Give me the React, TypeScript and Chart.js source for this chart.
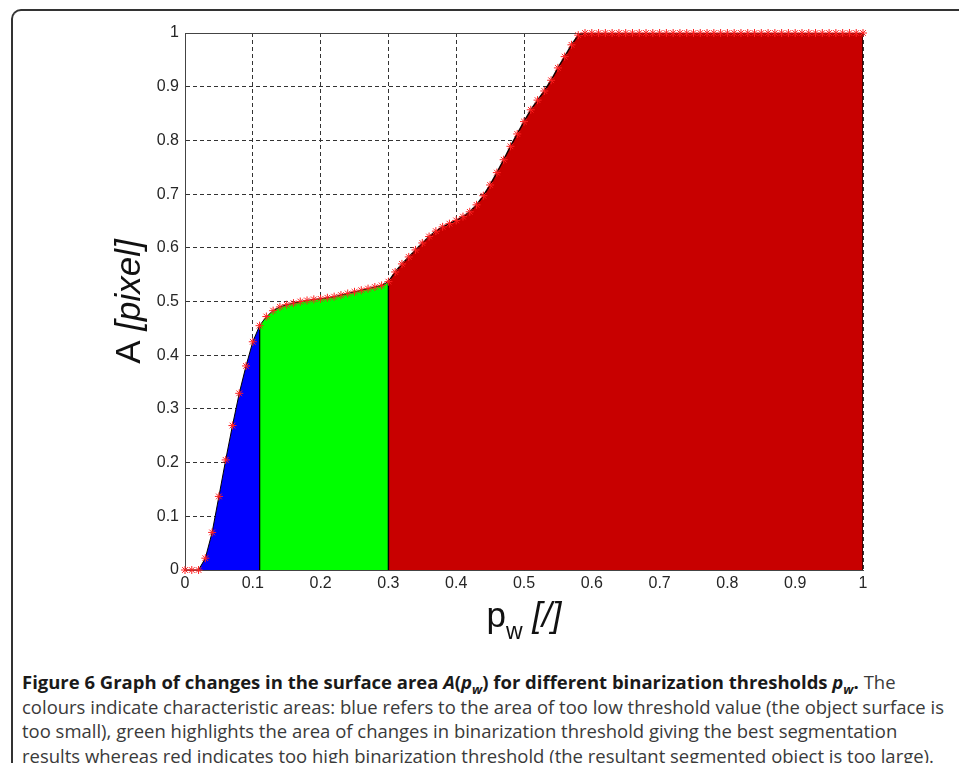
import React, { useEffect, useLayoutEffect, useRef } from "react";
import { Chart, registerables } from "chart.js";

Chart.register(...registerables);

// Binarization threshold p_w (x) and normalized surface area A(p_w) (y)
const thresholds: number[] = [
  0.0, 0.01, 0.02, 0.03, 0.04, 0.05, 0.06, 0.07, 0.08, 0.09,
  0.1, 0.11, 0.12, 0.13, 0.14, 0.15, 0.16, 0.17, 0.18, 0.19,
  0.2, 0.21, 0.22, 0.23, 0.24, 0.25, 0.26, 0.27, 0.28, 0.29,
  0.3, 0.31, 0.32, 0.33, 0.34, 0.35, 0.36, 0.37, 0.38, 0.39,
  0.4, 0.41, 0.42, 0.43, 0.44, 0.45, 0.46, 0.47, 0.48, 0.49,
  0.5, 0.51, 0.52, 0.53, 0.54, 0.55, 0.56, 0.57, 0.58, 0.59,
  0.6, 0.61, 0.62, 0.63, 0.64, 0.65, 0.66, 0.67, 0.68, 0.69,
  0.7, 0.71, 0.72, 0.73, 0.74, 0.75, 0.76, 0.77, 0.78, 0.79,
  0.8, 0.81, 0.82, 0.83, 0.84, 0.85, 0.86, 0.87, 0.88, 0.89,
  0.9, 0.91, 0.92, 0.93, 0.94, 0.95, 0.96, 0.97, 0.98, 0.99,
  1.0,
];

const areaValues: number[] = [
  0, 0, 0, 0.022, 0.07, 0.137, 0.205, 0.269, 0.329, 0.38,
  0.425, 0.455, 0.472, 0.483, 0.49, 0.494, 0.497, 0.5, 0.502, 0.504,
  0.505, 0.507, 0.509, 0.512, 0.515, 0.518, 0.521, 0.524, 0.527, 0.53,
  0.537, 0.555, 0.57, 0.583, 0.596, 0.609, 0.621, 0.631, 0.639, 0.645,
  0.651, 0.658, 0.667, 0.68, 0.697, 0.717, 0.74, 0.764, 0.789, 0.812,
  0.835, 0.857, 0.875, 0.892, 0.912, 0.935, 0.956, 0.978, 0.996, 1,
  1, 1, 1, 1, 1, 1, 1, 1, 1, 1,
  1, 1, 1, 1, 1, 1, 1, 1, 1, 1,
  1, 1, 1, 1, 1, 1, 1, 1, 1, 1,
  1, 1, 1, 1, 1, 1, 1, 1, 1, 1,
  1,
];

// Region limits (threshold values)
const blueEnd = 0.11;
const greenEnd = 0.3;

const axisTicks: number[] = [0, 0.1, 0.2, 0.3, 0.4, 0.5, 0.6, 0.7, 0.8, 0.9, 1];
const tickLabels: string[] = ["0", "0.1", "0.2", "0.3", "0.4", "0.5", "0.6", "0.7", "0.8", "0.9", "1"];

const captionLines = [
  "colours indicate characteristic areas: blue refers to the area of too low threshold value (the object surface is",
  "too small), green highlights the area of changes in binarization threshold giving the best segmentation",
  "results whereas red indicates too high binarization threshold (the resultant segmented object is too large).",
];

const FONT = '"Liberation Sans", Arial, Helvetica, sans-serif';

function fmtTick(v: number): string {
  for (let i = 0; i < axisTicks.length; i++) {
    if (Math.abs(axisTicks[i] - v) < 1e-6) return tickLabels[i];
  }
  return "";
}

export default function App() {
  const canvasRef = useRef<HTMLCanvasElement | null>(null);
  const capRef = useRef<HTMLDivElement | null>(null);
  const refLineRef = useRef<HTMLSpanElement | null>(null);

  useLayoutEffect(() => {
    const cap = capRef.current;
    const line = refLineRef.current;
    if (!cap || !line) return;
    const w = line.getBoundingClientRect().width;
    if (w > 0) {
      const s = 922 / w;
      cap.style.transform = `scaleX(${s})`;
    }
  }, []);

  useEffect(() => {
    const canvas = canvasRef.current;
    if (!canvas) return;

    const pts = thresholds.map((x, i) => ({ x, y: areaValues[i] }));
    const blueData = [...pts.filter((p) => p.x <= blueEnd), { x: blueEnd, y: 0 }];
    const greenData = [
      { x: blueEnd, y: 0 },
      ...pts.filter((p) => p.x >= blueEnd && p.x <= greenEnd),
      { x: greenEnd, y: 0 },
    ];
    const redData = [
      { x: greenEnd, y: 0 },
      ...pts.filter((p) => p.x >= greenEnd),
      { x: thresholds[thresholds.length - 1], y: 0 },
    ];

    const boxPlugin = {
      id: "boxPlugin",
      beforeDatasetsDraw(chart: any) {
        const { ctx, chartArea } = chart;
        ctx.save();
        ctx.strokeStyle = "#444";
        ctx.lineWidth = 1;
        ctx.beginPath();
        ctx.moveTo(chartArea.left, chartArea.top + 0.5);
        ctx.lineTo(chartArea.right, chartArea.top + 0.5);
        ctx.moveTo(chartArea.right - 0.5, chartArea.top);
        ctx.lineTo(chartArea.right - 0.5, chartArea.bottom);
        ctx.stroke();
        ctx.restore();
      },
    };

    const titlePlugin = {
      id: "titlePlugin",
      afterDraw(chart: any) {
        const { ctx, chartArea } = chart;
        const normal = `35px ${FONT}`;
        const italic = `italic 35px ${FONT}`;
        const sub = `23px ${FONT}`;
        ctx.save();
        ctx.fillStyle = "#111";
        ctx.textBaseline = "alphabetic";
        ctx.textAlign = "left";
        // Y title
        ctx.save();
        ctx.translate(140, (chartArea.top + chartArea.bottom) / 2);
        ctx.rotate(-Math.PI / 2);
        ctx.font = normal;
        const w1 = ctx.measureText("A ").width;
        ctx.font = italic;
        const w2 = ctx.measureText("[pixel]").width;
        let x = -(w1 + w2) / 2;
        ctx.font = normal;
        ctx.fillText("A ", x, 0);
        x += w1;
        ctx.font = italic;
        ctx.fillText("[pixel]", x, 0);
        ctx.restore();
        // X title
        const base = 627;
        ctx.font = normal;
        const a = ctx.measureText("p").width;
        ctx.font = sub;
        const b = ctx.measureText("w").width;
        ctx.font = italic;
        const c = ctx.measureText(" [/]").width;
        let xx = (chartArea.left + chartArea.right) / 2 - (a + b + c) / 2;
        ctx.font = normal;
        ctx.fillText("p", xx, base);
        xx += a;
        ctx.font = sub;
        ctx.fillText("w", xx, base + 12);
        xx += b;
        ctx.font = italic;
        ctx.fillText(" [/]", xx, base);
        ctx.restore();
      },
    };

    const tickFont = { family: FONT, size: 16 };

    const chart = new Chart(canvas, {
      type: "line",
      data: {
        datasets: [
          {
            label: "markers",
            data: pts,
            showLine: false,
            pointStyle: "star",
            pointRadius: 4,
            pointBorderColor: "#ff2020",
            pointBackgroundColor: "#ff2020",
            pointBorderWidth: 1,
            clip: false as any,
          },
          {
            label: "blue",
            data: blueData,
            fill: "origin",
            backgroundColor: "#0000ff",
            borderColor: "#000",
            borderWidth: 1,
            pointRadius: 0,
            tension: 0,
          },
          {
            label: "green",
            data: greenData,
            fill: "origin",
            backgroundColor: "#00ff00",
            borderColor: "#000",
            borderWidth: 1,
            pointRadius: 0,
            tension: 0,
          },
          {
            label: "red",
            data: redData,
            fill: "origin",
            backgroundColor: "#c80000",
            borderColor: "#1a0000",
            borderWidth: 1.5,
            pointRadius: 0,
            tension: 0,
          },
        ] as any,
      },
      options: {
        animation: false,
        responsive: false,
        events: [],
        layout: { padding: { top: 33, right: 96, left: 0, bottom: 0 } },
        plugins: {
          legend: { display: false },
          tooltip: { enabled: false },
        },
        scales: {
          x: {
            type: "linear",
            min: 0,
            max: 1,
            afterFit: (s: any) => {
              s.height = 90;
            },
            afterBuildTicks: (s: any) => {
              s.ticks = axisTicks.map((v) => ({ value: v }));
            },
            ticks: {
              padding: 4,
              color: "#262626",
              font: tickFont,
              maxRotation: 0,
              autoSkip: false,
              callback: (v: any) => fmtTick(Number(v)),
            },
            grid: { color: "#333", lineWidth: 1, drawTicks: false },
            border: { color: "#444", width: 1, dash: [4, 3] },
          },
          y: {
            type: "linear",
            min: 0,
            max: 1,
            afterFit: (s: any) => {
              s.width = 185;
            },
            afterBuildTicks: (s: any) => {
              s.ticks = axisTicks.map((v) => ({ value: v }));
            },
            ticks: {
              padding: 6,
              color: "#262626",
              font: tickFont,
              autoSkip: false,
              callback: (v: any) => fmtTick(Number(v)),
            },
            grid: { color: "#333", lineWidth: 1, drawTicks: false },
            border: { color: "#444", width: 1, dash: [4, 3] },
          },
        },
      } as any,
      plugins: [boxPlugin, titlePlugin],
    });

    return () => chart.destroy();
  }, []);

  const capFont = '"Open Sans", "Noto Sans", sans-serif';
  const subStyle: React.CSSProperties = { fontSize: "0.7em", lineHeight: 0 };

  return (
    <div
      style={{
        position: "fixed",
        left: 0,
        top: 0,
        width: 959,
        height: 763,
        overflow: "hidden",
        background: "#fff",
      }}
    >
      <div
        style={{
          position: "absolute",
          left: 11,
          top: 9,
          width: 1000,
          height: 800,
          borderLeft: "2px solid #333",
          borderTop: "2px solid #333",
          borderTopLeftRadius: 10,
          boxSizing: "border-box",
        }}
      />
      <canvas
        ref={canvasRef}
        width={959}
        height={660}
        style={{ position: "absolute", left: 0, top: 0, width: 959, height: 660 }}
      />
      <div
        ref={capRef}
        style={{
          position: "absolute",
          left: 22,
          top: 670,
          fontFamily: capFont,
          fontSize: 18,
          lineHeight: "24.5px",
          color: "#3a3a3a",
          whiteSpace: "nowrap",
          transformOrigin: "0 0",
        }}
      >
        <div>
          <span style={{ fontWeight: "bold", color: "#1a1a1a" }}>
            Figure 6 Graph of changes in the surface area <i>A</i>(<i>p</i>
            <sub style={subStyle}><i>w</i></sub>) for different binarization thresholds{" "}
            <i>p</i>
            <sub style={subStyle}><i>w</i></sub>.
          </span>{" "}
          The
        </div>
        {captionLines.map((l, i) => (
          <div key={i}>
            <span ref={i === 0 ? refLineRef : undefined}>{l}</span>
          </div>
        ))}
      </div>
    </div>
  );
}
